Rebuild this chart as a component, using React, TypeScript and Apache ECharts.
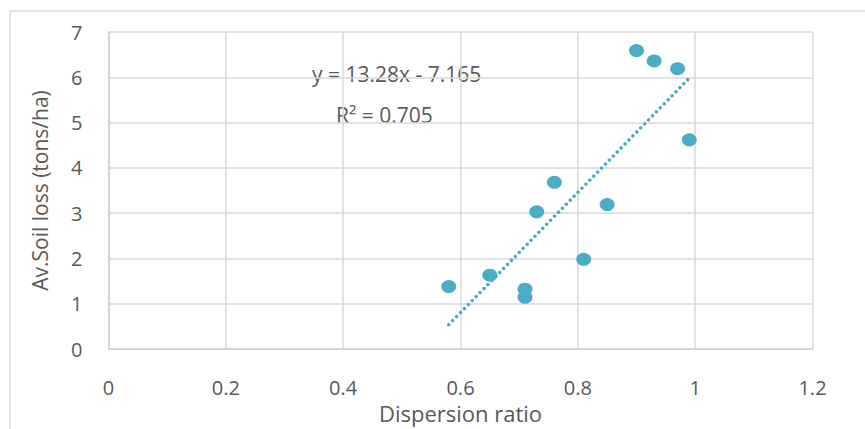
import React, { useEffect, useRef } from "react";
import * as echarts from "echarts";

const dispersionRatio = [0.58, 0.65, 0.71, 0.71, 0.73, 0.76, 0.81, 0.85, 0.9, 0.93, 0.97, 0.99];
const soilLoss = [1.38, 1.63, 1.32, 1.14, 3.03, 3.68, 1.98, 3.19, 6.59, 6.36, 6.19, 4.62];
const trendSlope = 13.28;
const trendIntercept = -7.165;
const equationText = "y = 13.28x - 7.165";
const r2Text = "R² = 0.705";
const xAxisTitle = "Dispersion ratio";
const yAxisTitle = "Av.Soil loss (tons/ha)";

const FONT = "'Open Sans', 'Liberation Sans', sans-serif";
const TEXT = "#595959";
const TEAL = "#4BACC6";

export default function App() {
  const ref = useRef<HTMLDivElement>(null);
  useEffect(() => {
    if (!ref.current) return;
    const chart = echarts.init(ref.current, undefined, { renderer: "svg" });
    const points = dispersionRatio.map((x, i) => [x, soilLoss[i]]);
    const xMin = Math.min(...dispersionRatio);
    const xMax = Math.max(...dispersionRatio);
    const trend = [
      [xMin, trendSlope * xMin + trendIntercept],
      [xMax, trendSlope * xMax + trendIntercept],
    ];
    chart.setOption({
      animation: false,
      backgroundColor: "#ffffff",
      textStyle: { fontFamily: FONT },
      grid: { left: 108.5, right: 52.5, top: 32, bottom: 80, containLabel: false },
      xAxis: {
        type: "value",
        min: 0,
        max: 1.2,
        interval: 0.2,
        name: xAxisTitle,
        nameLocation: "middle",
        nameGap: 53,
        nameTextStyle: { color: TEXT, fontSize: 22, fontFamily: FONT },
        axisLine: { show: true, lineStyle: { color: "#d0d0d0", width: 1.5 } },
        axisTick: { show: false },
        axisLabel: { color: TEXT, fontSize: 20, margin: 28, fontFamily: FONT },
        splitLine: { show: true, lineStyle: { color: "#d9d9d9", width: 1.5 } },
      },
      yAxis: {
        type: "value",
        min: 0,
        max: 7,
        interval: 1,
        name: yAxisTitle,
        nameLocation: "middle",
        nameGap: 58,
        nameTextStyle: { color: TEXT, fontSize: 21, fontFamily: FONT },
        axisLine: { show: true, lineStyle: { color: "#d0d0d0", width: 1.5 } },
        axisTick: { show: false },
        axisLabel: { color: TEXT, fontSize: 20, margin: 26, fontFamily: FONT },
        splitLine: { show: true, lineStyle: { color: "#d9d9d9", width: 1.5 } },
      },
      series: [
        {
          type: "scatter",
          data: points,
          symbol: "circle",
          symbolSize: [15, 13],
          itemStyle: { color: TEAL, opacity: 1 },
          z: 2,
        },
        {
          type: "line",
          data: trend,
          showSymbol: false,
          symbol: "none",
          lineStyle: { color: TEAL, width: 3.5, type: [0.01, 5.6], cap: "round" },
          z: 3,
        },
      ],
      graphic: [
        {
          type: "rect",
          shape: { x: 10, y: 11, width: 900, height: 460 },
          style: { fill: "none", stroke: "#d9d9d9", lineWidth: 1.5 },
          z: -1,
          silent: true,
        },
        {
          type: "text",
          x: 312,
          y: 74,
          style: {
            text: equationText,
            fill: TEXT,
            fontSize: 21,
            fontFamily: FONT,
            verticalAlign: "middle",
            align: "left",
          },
        },
        {
          type: "text",
          x: 336,
          y: 115,
          style: {
            text: r2Text,
            fill: TEXT,
            fontSize: 21,
            fontFamily: FONT,
            verticalAlign: "middle",
            align: "left",
          },
        },
      ],
    });
    return () => chart.dispose();
  }, []);
  return (
    <div
      ref={ref}
      style={{ position: "fixed", left: 0, top: 0, width: 865, height: 429, background: "#fff" }}
    />
  );
}
